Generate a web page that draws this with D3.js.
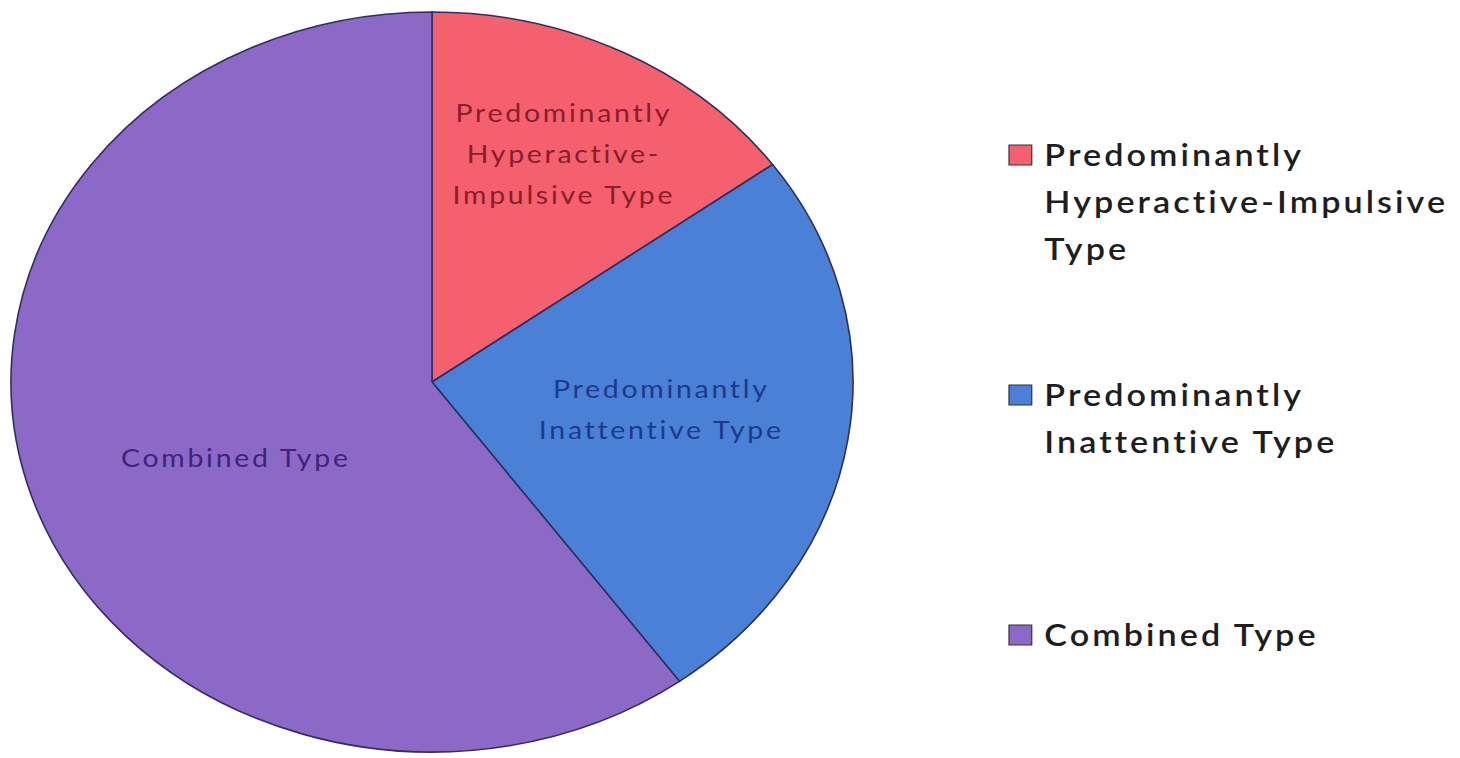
<!DOCTYPE html>
<html>
<head>
<meta charset="utf-8">
<script src="https://cdn.jsdelivr.net/npm/d3@7"></script>
<style>
  body { margin: 0; background: #fff; }
  text { font-family: Lato, "Open Sans", sans-serif; }
</style>
</head>
<body>
<div id="chart"></div>
<script>
// Chart data
var categories = ["Predominantly Hyperactive-Impulsive Type", "Predominantly Inattentive Type", "Combined Type"];
var values = [15, 25, 60];
var colors = ["#f5606e", "#4a80d6", "#8c69c7"];
var labelColors = ["#8a1c2c", "#1c3a8c", "#3e2478"];
var sliceLines = [["Predominantly", "Hyperactive-", "Impulsive Type"], ["Predominantly", "Inattentive Type"], ["Combined Type"]];
var legendLines = [["Predominantly", "Hyperactive-Impulsive", "Type"], ["Predominantly", "Inattentive Type"], ["Combined Type"]];

// SVG area
var svgWidth = 1460;
var svgHeight = 758;

// Pie is drawn as a circle and stretched sideways like the picture
var ry = 370;
var rx = 421;
var sx = rx / ry;
var cx = 432;
var cy = 382;

// label placement (fraction of radius) and small angle nudges, layout only
var labelRadius = [0.69, 0.55, 0.51];
var labelNudge = [0, -1, -6];

var svg = d3.select("#chart")
  .append("svg")
  .attr("width", svgWidth)
  .attr("height", svgHeight);

var pieGroup = svg.append("g")
  .attr("transform", `translate(${cx}, ${cy}) scale(${sx}, 1)`);

var pie = d3.pie().sort(null).value(d => d);
var arcs = pie(values);

var arc = d3.arc().innerRadius(0).outerRadius(ry);

pieGroup.selectAll("path")
  .data(arcs)
  .enter()
  .append("path")
  .attr("d", arc)
  .attr("fill", (d, i) => colors[i])
  .attr("stroke", "#2e2f5e")
  .attr("stroke-width", 1.6)
  .attr("vector-effect", "non-scaling-stroke");

// Slice labels
var lineH = 41;
arcs.forEach(function(d, i) {
  var a = (d.startAngle + d.endAngle) / 2 + labelNudge[i] * Math.PI / 180;
  var r = ry * labelRadius[i];
  var x = r * Math.sin(a);
  var y = -r * Math.cos(a);
  var lines = sliceLines[i];
  var t = pieGroup.append("text")
    .attr("text-anchor", "middle")
    .attr("fill", labelColors[i])
    .style("font-size", "25px")
    .style("letter-spacing", "2.4px");
  lines.forEach(function(line, j) {
    t.append("tspan")
      .attr("x", x)
      .attr("y", y + (j - (lines.length - 1) / 2) * lineH + 8)
      .text(line);
  });
});

// Legend
var legendGroup = svg.append("g")
  .attr("transform", `translate(1009, 0) scale(${sx}, 1)`);

var legendTop = [155, 395, 635];
var legendLineH = 47;

legendLines.forEach(function(lines, i) {
  legendGroup.append("rect")
    .attr("x", 0)
    .attr("y", legendTop[i] - 10)
    .attr("width", 20)
    .attr("height", 20)
    .attr("fill", colors[i])
    .attr("stroke", "#333")
    .attr("stroke-width", 1.2)
    .attr("vector-effect", "non-scaling-stroke");

  var t = legendGroup.append("text")
    .attr("fill", "#1e1e1e")
    .style("font-size", "30px")
    .style("font-weight", "600")
    .style("letter-spacing", "2.7px");
  lines.forEach(function(line, j) {
    t.append("tspan")
      .attr("x", 31)
      .attr("y", legendTop[i] + 11 + j * legendLineH)
      .text(line);
  });
});
</script>
</body>
</html>
